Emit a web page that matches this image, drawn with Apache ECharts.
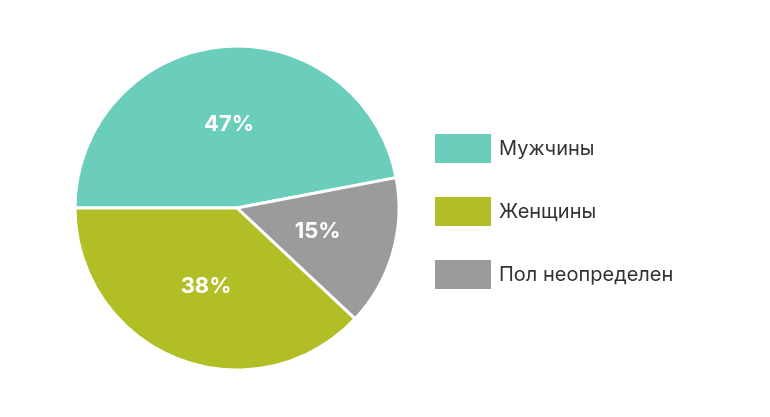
<!DOCTYPE html>
<html><head><meta charset="utf-8">
<script src="https://cdn.jsdelivr.net/npm/echarts@6/dist/echarts.min.js"></script>
<style>html,body{margin:0;background:#fff}#c{width:770px;height:417px}</style>
</head><body><div id="c"></div>
<script>
const categories = ["Мужчины", "Пол неопределен", "Женщины"];
const values = [47, 15, 38];
const colors = ["#6bcebd", "#9b9b9b", "#b2be25"];
const legendOrder = ["Мужчины", "Женщины", "Пол неопределен"];
const chart = echarts.init(document.getElementById('c'));
chart.setOption({
  animation: false,
  legend: {
    data: legendOrder, orient: 'vertical', left: 428, top: 127,
    itemWidth: 58, itemHeight: 31, itemGap: 30, icon: 'rect',
    textStyle: { fontSize: 20, color: '#333', fontFamily: 'Inter', padding: [0,0,0,2] }
  },
  series: [{
    type: 'pie', center: [237, 208], radius: 162, startAngle: 180,
    clockwise: true,
    itemStyle: { borderColor: '#fff', borderWidth: 3 },
    label: { position: 'inside', formatter: '{c}%', color: '#fff', fontSize: 22, fontWeight: 'bold', fontFamily: 'Inter' },
    labelLine: { show: false },
    data: categories.map((n, i) => ({ name: n, value: values[i], itemStyle: { color: colors[i] } }))
  }]
});
</script></body></html>
